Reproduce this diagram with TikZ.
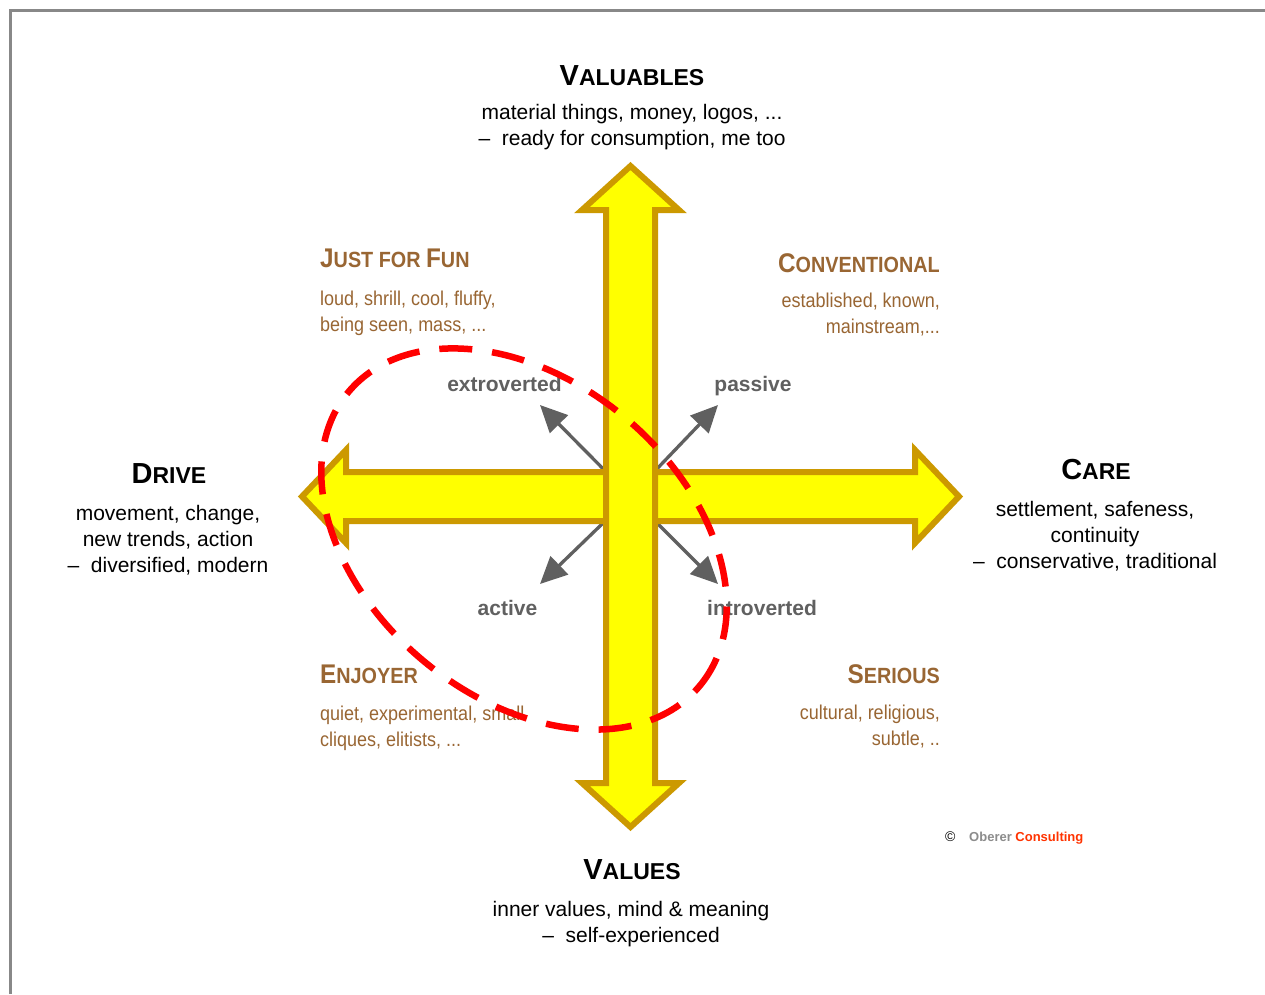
\documentclass[tikz,border=0pt]{standalone}
\usepackage{fontspec}
\setmainfont{Liberation Sans}
\newfontfamily\narrowfont[FakeStretch=0.9]{Liberation Sans}
\usetikzlibrary{arrows.meta}
\definecolor{arrowyellow}{RGB}{255,255,0}
\definecolor{arrowgold}{RGB}{204,153,0}
\definecolor{quadbrown}{RGB}{153,102,51}
\definecolor{dirgray}{RGB}{96,96,96}
\definecolor{framegray}{RGB}{136,136,136}
\definecolor{consred}{RGB}{255,51,0}
\definecolor{oberergray}{RGB}{140,140,140}
\newcommand{\hA}[1]{{\fontsize{29}{29}\selectfont #1}}
\newcommand{\hB}[1]{{\fontsize{23}{23}\selectfont #1}}
\newcommand{\qA}[1]{{\fontsize{27}{27}\selectfont #1}}
\newcommand{\qB}[1]{{\fontsize{22}{22}\selectfont #1}}
\tikzset{
  headtext/.style={anchor=base, inner sep=0pt, font=\bfseries},
  bodytext/.style={anchor=base, inner sep=0pt, align=center, font=\fontsize{21}{26}\selectfont},
  quadhead/.style={inner sep=0pt, text=quadbrown, font=\narrowfont\bfseries},
  quadbody/.style={inner sep=0pt, text=quadbrown, font=\narrowfont\fontsize{20}{26}\selectfont},
  dirlabel/.style={anchor=base, inner sep=0pt, text=dirgray, font=\bfseries\fontsize{21}{21}\selectfont},
  dirarrow/.style={draw=dirgray, line width=3.3pt, -{Triangle[length=27pt,width=25pt]}},
  bigarrow/.style={fill=arrowyellow, draw=arrowgold, line width=6pt, line join=miter, miter limit=10},
  redring/.style={draw=red, line width=6.5pt, dash pattern=on 33pt off 20pt}
}
\begin{document}
\begin{tikzpicture}[x=1pt,y=-1pt]
\useasboundingbox (0,0) rectangle (1265,994);
\fill[white] (0,0) rectangle (1265,994);
% frame
\draw[framegray, line width=2.5pt] (10.5,994) -- (10.5,10.5) -- (1265,10.5);

% coordinates
\coordinate (ctr) at (630.5,496.5);
\coordinate (nwtip) at (540,405);
\coordinate (netip) at (718,405);
\coordinate (swtip) at (540,584);
\coordinate (setip) at (718,584);
\coordinate (ring) at (524,539);

% grey direction arrows
\draw[dirarrow] (ctr) -- (nwtip);
\draw[dirarrow] (ctr) -- (netip);
\draw[dirarrow] (ctr) -- (swtip);
\draw[dirarrow] (ctr) -- (setip);

% yellow double arrows
\draw[bigarrow] (346,472) -- (346,450) -- (302,496.5) -- (346,543) -- (346,521)
  -- (915,521) -- (915,543) -- (959,496.5) -- (915,450) -- (915,472) -- cycle;
\draw[bigarrow] (606,210) -- (582,210) -- (630.5,166) -- (679,210) -- (655,210)
  -- (655,783) -- (679,783) -- (630.5,827) -- (582,783) -- (606,783) -- cycle;

% main headings (multi-line nodes: base = last line's baseline)
\node[headtext] (valT) at (632,85) {\hA{V}\hB{ALUABLES}};
\node[bodytext] (valB) at (632,145.5) {material things, money, logos, ...\\–~ ready for consumption, me too};
\node[headtext] (drvT) at (169,483) {\hA{D}\hB{RIVE}};
\node[bodytext] (drvB) at (168,572.5) {movement, change,\\new trends, action\\–~ diversified, modern};
\node[headtext] (carT) at (1096,479) {\hA{C}\hB{ARE}};
\node[bodytext] (carB) at (1095,568) {settlement, safeness,\\continuity\\–~ conservative, traditional};
\node[headtext] (vluT) at (632,879) {\hA{V}\hB{ALUES}};
\node[bodytext] (vluB) at (631,942) {inner values, mind \& meaning\\–~ self-experienced};

% quadrant labels
\node[quadhead, anchor=base west] (funT) at (320,267) {\qA{J}\qB{UST FOR }\qA{F}\qB{UN}};
\node[quadbody, anchor=base west, align=left] (funB) at (320,331) {loud, shrill, cool, fluffy,\\being seen, mass, ...};
\node[quadhead, anchor=base east] (conT) at (940,272) {\qA{C}\qB{ONVENTIONAL}};
\node[quadbody, anchor=base east, align=right] (conB) at (940,333) {established, known,\\mainstream,...};
\node[quadhead, anchor=base west] (enjT) at (320,683) {\qA{E}\qB{NJOYER}};
\node[quadbody, anchor=base west, align=left] (enjB) at (320,746) {quiet, experimental, small\\cliques, elitists, ...};
\node[quadhead, anchor=base east] (serT) at (940,683) {\qA{S}\qB{ERIOUS}};
\node[quadbody, anchor=base east, align=right] (serB) at (940,745) {cultural, religious,\\subtle, ..};

% direction labels
\node[dirlabel] (ext) at (504.5,391) {extroverted};
\node[dirlabel] (pas) at (753,391) {passive};
\node[dirlabel] (act) at (507.5,615) {active};
\node[dirlabel] (int) at (762,615) {introverted};

% copyright
\node[anchor=base west, inner sep=0pt, font=\fontsize{14}{14}\selectfont] (copy) at (945,841) {©};
\node[anchor=base west, inner sep=0pt, font=\bfseries\fontsize{13}{13}\selectfont] (ober) at (969,841) {\textcolor{oberergray}{Oberer} \textcolor{consred}{Consulting}};

% red dashed ring
\draw[redring, rotate around={-40:(ring)}] (ring) ellipse [x radius=229pt, y radius=158pt];
\end{tikzpicture}
\end{document}
